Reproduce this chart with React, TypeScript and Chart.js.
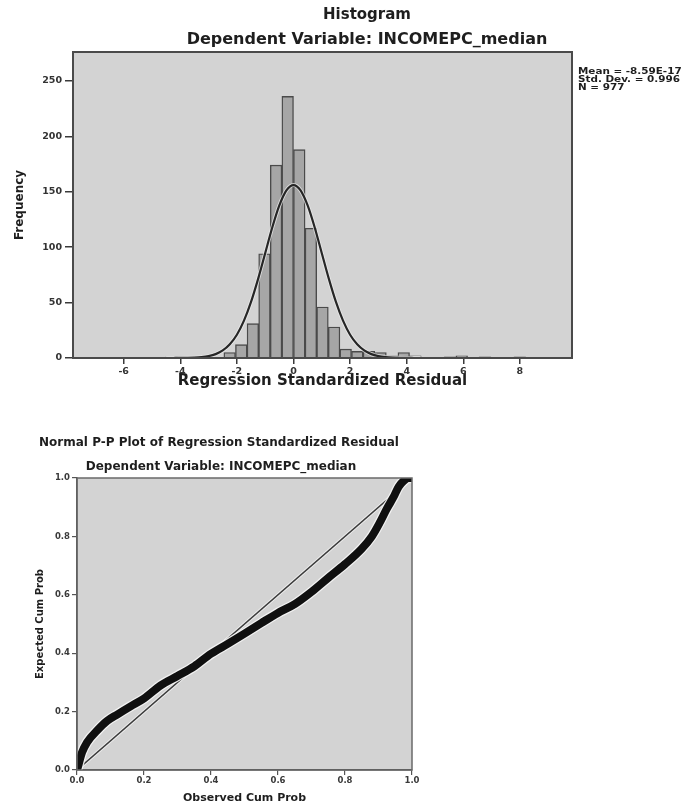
import React, { useEffect, useRef } from 'react';
import { Chart, registerables } from 'chart.js';

Chart.register(...registerables);

// ---------- Histogram data ----------
const histBinCenters = [-4.305, -2.255, -1.845, -1.435, -1.025, -0.615, -0.205, 0.205, 0.615, 1.025, 1.435, 1.845, 2.255, 2.665, 3.075, 3.485, 3.895, 4.305, 5.535, 5.945, 6.765, 7.995];
const histCounts = [1, 5, 12, 31, 94, 174, 236, 188, 117, 46, 28, 8, 6, 6, 5, 2, 5, 2, 1, 2, 1, 1];
const normalCurveX = [-4.5, -4.25, -4, -3.75, -3.5, -3.25, -3, -2.75, -2.5, -2.25, -2, -1.75, -1.5, -1.25, -1, -0.75, -0.5, -0.25, 0, 0.25, 0.5, 0.75, 1, 1.25, 1.5, 1.75, 2, 2.25, 2.5, 2.75, 3, 3.25, 3.5, 3.75, 4, 4.25, 4.5];
const normalCurveY = [0, 0.02, 0.05, 0.14, 0.34, 0.79, 1.7, 3.5, 6.8, 12.4, 21, 33.7, 50.6, 71.4, 94.5, 117.7, 137.6, 151.2, 156, 151.2, 137.6, 117.7, 94.5, 71.4, 50.6, 33.7, 21, 12.4, 6.8, 3.5, 1.7, 0.79, 0.34, 0.14, 0.05, 0.02, 0];
const histXTicks = [-6, -4, -2, 0, 2, 4, 6, 8];
const histYTicks = [0, 50, 100, 150, 200, 250];
const histXMin = -7.79;
const histXMax = 9.84;
const histYMax = 276;
const histTitle = 'Histogram';
const depVarTitle = 'Dependent Variable: INCOMEPC_median';
const histXLabel = 'Regression Standardized Residual';
const histYLabel = 'Frequency';
const statsLines = ['Mean = -8.59E-17', 'Std. Dev. = 0.996', 'N = 977'];

// ---------- P-P plot data ----------
const ppObserved = [0, 0.005, 0.015, 0.03, 0.06, 0.09, 0.12, 0.16, 0.2, 0.25, 0.3, 0.35, 0.4, 0.45, 0.5, 0.55, 0.6, 0.65, 0.7, 0.75, 0.8, 0.85, 0.88, 0.905, 0.925, 0.945, 0.96, 0.975, 0.99, 1.0];
const ppExpected = [0, 0.02, 0.06, 0.095, 0.135, 0.168, 0.19, 0.218, 0.245, 0.29, 0.322, 0.355, 0.398, 0.432, 0.467, 0.503, 0.538, 0.568, 0.61, 0.658, 0.705, 0.758, 0.8, 0.85, 0.895, 0.935, 0.97, 0.99, 1.0, 1.0];
const ppDiagonal = [0, 1];
const ppTicks = [0, 0.2, 0.4, 0.6, 0.8, 1.0];
const ppTitle = 'Normal P-P Plot of Regression Standardized Residual';
const ppXLabel = 'Observed Cum Prob';
const ppYLabel = 'Expected Cum Prob';

const FONT = '"DejaVu Sans", "Liberation Sans", sans-serif';
const PLOT_BG = '#d3d3d3';

type TextItem = { text: string; x: number; y: number; size: number; align: CanvasTextAlign; sx?: number };

function makeTextPlugin(id: string, items: TextItem[]) {
  return {
    id,
    afterDraw(chart: any) {
      const ctx = chart.ctx as CanvasRenderingContext2D;
      for (const it of items) {
        ctx.save();
        ctx.translate(it.x, it.y);
        ctx.scale(it.sx || 1, 1);
        ctx.font = `bold ${it.size}px ${FONT}`;
        ctx.fillStyle = '#1e1e1e';
        ctx.textAlign = it.align;
        ctx.textBaseline = 'middle';
        ctx.fillText(it.text, 0, 0);
        ctx.restore();
      }
    },
  };
}

function makeFramePlugin(id: string, border: string, width: number) {
  return {
    id,
    beforeDraw(chart: any) {
      const { ctx, chartArea: a } = chart;
      ctx.save();
      ctx.fillStyle = PLOT_BG;
      ctx.fillRect(a.left, a.top, a.right - a.left, a.bottom - a.top);
      ctx.restore();
    },
    afterDatasetsDraw(chart: any) {
      const { ctx, chartArea: a } = chart;
      ctx.save();
      ctx.strokeStyle = border;
      ctx.lineWidth = width;
      ctx.strokeRect(a.left, a.top, a.right - a.left, a.bottom - a.top);
      ctx.restore();
    },
  };
}

function HistogramChart() {
  const ref = useRef<HTMLCanvasElement | null>(null);
  useEffect(() => {
    if (!ref.current) return;
    const bars = histBinCenters.map((x, i) => ({ x, y: histCounts[i] }));
    const curve = normalCurveX.map((x, i) => ({ x, y: normalCurveY[i] }));
    const chart = new Chart(ref.current, {
      type: 'bar',
      data: {
        datasets: [
          {
            type: 'line',
            data: curve,
            borderColor: '#262626',
            borderWidth: 2.2,
            pointRadius: 0,
            cubicInterpolationMode: 'monotone',
            order: 1,
          } as any,
          {
            type: 'line',
            data: curve,
            borderColor: 'rgba(236,236,236,0.75)',
            borderWidth: 4,
            pointRadius: 0,
            cubicInterpolationMode: 'monotone',
            order: 2,
          } as any,
          {
            type: 'bar',
            data: bars,
            backgroundColor: '#a6a6a6',
            borderColor: '#4a4a4a',
            borderWidth: 1.4,
            barPercentage: 1,
            categoryPercentage: 1,
            order: 3,
          } as any,
        ],
      },
      options: {
        responsive: false,
        animation: false,
        layout: { padding: { left: 0, top: 52, right: 112, bottom: 0 } },
        plugins: { legend: { display: false }, tooltip: { enabled: false } },
        scales: {
          x: {
            type: 'linear',
            offset: false,
            min: histXMin,
            max: histXMax,
            afterBuildTicks: (s: any) => {
              s.ticks = histXTicks.map((v) => ({ value: v }));
            },
            afterFit: (s: any) => {
              s.height = 42;
            },
            grid: { display: true, offset: false, drawOnChartArea: false, drawTicks: true, tickLength: 6, color: '#3a3a3a', lineWidth: 1.5 },
            border: { display: true, color: '#333', width: 2 },
            ticks: { font: { family: FONT, size: 9.5, weight: 'bold' }, color: '#333', padding: 1.5, maxRotation: 0, autoSkip: false },
            title: { display: true, text: histXLabel, font: { family: FONT, size: 15, weight: 'bold' }, color: '#1e1e1e', padding: { top: 0, bottom: 10 } },
          },
          y: {
            type: 'linear',
            min: 0,
            max: histYMax,
            afterBuildTicks: (s: any) => {
              s.ticks = histYTicks.map((v) => ({ value: v }));
            },
            afterFit: (s: any) => {
              s.width = 73;
            },
            grid: { display: true, drawOnChartArea: false, drawTicks: true, tickLength: 8, color: '#3a3a3a', lineWidth: 1.5 },
            border: { display: true, color: '#333', width: 2 },
            ticks: { font: { family: FONT, size: 9.5, weight: 'bold' }, color: '#333', padding: 3, autoSkip: false },
            title: { display: true, text: histYLabel, font: { family: FONT, size: 12, weight: 'bold' }, color: '#1e1e1e', padding: { top: 12.8, bottom: 0 } },
          },
        },
      } as any,
      plugins: [
        makeFramePlugin('histFrame', '#4a4a4a', 2),
        makeTextPlugin('histText', [
          { text: histTitle, x: 367, y: 15, size: 15, align: 'center' },
          { text: depVarTitle, x: 367, y: 40, size: 16, align: 'center' },
          { text: statsLines[0], x: 578, y: 72, size: 8, align: 'left', sx: 1.3 },
          { text: statsLines[1], x: 578, y: 80, size: 8, align: 'left', sx: 1.3 },
          { text: statsLines[2], x: 578, y: 88, size: 8, align: 'left', sx: 1.3 },
        ]),
      ],
    });
    return () => chart.destroy();
  }, []);
  return <canvas ref={ref} width={684} height={400} style={{ display: 'block' }} />;
}

function PPChart() {
  const ref = useRef<HTMLCanvasElement | null>(null);
  useEffect(() => {
    if (!ref.current) return;
    const band = ppObserved.map((x, i) => ({ x, y: ppExpected[i] }));
    const diag = ppDiagonal.map((v) => ({ x: v, y: v }));
    const chart = new Chart(ref.current, {
      type: 'line',
      data: {
        datasets: [
          { data: band, borderColor: '#101010', borderWidth: 8, pointRadius: 0, cubicInterpolationMode: 'monotone', borderCapStyle: 'round', borderJoinStyle: 'round', order: 1 },
          { data: band, borderColor: 'rgba(245,245,245,0.9)', borderWidth: 10.5, pointRadius: 0, cubicInterpolationMode: 'monotone', borderCapStyle: 'round', order: 2 },
          { data: diag, borderColor: '#3c3c3c', borderWidth: 1.5, pointRadius: 0, order: 3 },
          { data: diag, borderColor: 'rgba(245,245,245,0.8)', borderWidth: 3.5, pointRadius: 0, order: 4 },
        ] as any,
      },
      options: {
        responsive: false,
        animation: false,
        layout: { padding: { left: 0, top: 78, right: 272, bottom: 0 } },
        plugins: { legend: { display: false }, tooltip: { enabled: false } },
        scales: {
          x: {
            type: 'linear',
            min: 0,
            max: 1,
            afterBuildTicks: (s: any) => {
              s.ticks = ppTicks.map((v) => ({ value: v }));
            },
            afterFit: (s: any) => {
              s.height = 37;
            },
            grid: { display: true, drawOnChartArea: false, drawTicks: true, tickLength: 5, color: '#555', lineWidth: 1.2 },
            border: { display: true, color: '#444', width: 1.5 },
            ticks: { font: { family: FONT, size: 8.5, weight: 'bold' }, color: '#3a3a3a', padding: 1, maxRotation: 0, autoSkip: false, callback: (v: any) => Number(v).toFixed(1) },
            title: { display: true, text: ppXLabel, font: { family: FONT, size: 11, weight: 'bold' }, color: '#1e1e1e', padding: { top: 0, bottom: 2.4 } },
          },
          y: {
            type: 'linear',
            min: 0,
            max: 1,
            afterBuildTicks: (s: any) => {
              s.ticks = ppTicks.map((v) => ({ value: v }));
            },
            afterFit: (s: any) => {
              s.width = 77;
            },
            grid: { display: true, drawOnChartArea: false, drawTicks: true, tickLength: 5, color: '#555', lineWidth: 1.2 },
            border: { display: true, color: '#444', width: 1.5 },
            ticks: { font: { family: FONT, size: 8.5, weight: 'bold' }, color: '#3a3a3a', padding: 2, autoSkip: false, callback: (v: any) => Number(v).toFixed(1) },
            title: { display: true, text: ppYLabel, font: { family: FONT, size: 10, weight: 'bold' }, color: '#1e1e1e', padding: { top: 34, bottom: 0 } },
          },
        },
      } as any,
      plugins: [
        makeFramePlugin('ppFrame', '#6a6a6a', 1.5),
        makeTextPlugin('ppText', [
          { text: ppTitle, x: 219, y: 43, size: 12, align: 'center' },
          { text: depVarTitle, x: 221, y: 67, size: 12, align: 'center' },
        ]),
      ],
    });
    return () => chart.destroy();
  }, []);
  return <canvas ref={ref} width={684} height={407} style={{ display: 'block' }} />;
}

export default function App() {
  return (
    <div style={{ position: 'absolute', left: 0, top: 0, width: 684, height: 807, background: '#ffffff' }}>
      <HistogramChart />
      <PPChart />
    </div>
  );
}
